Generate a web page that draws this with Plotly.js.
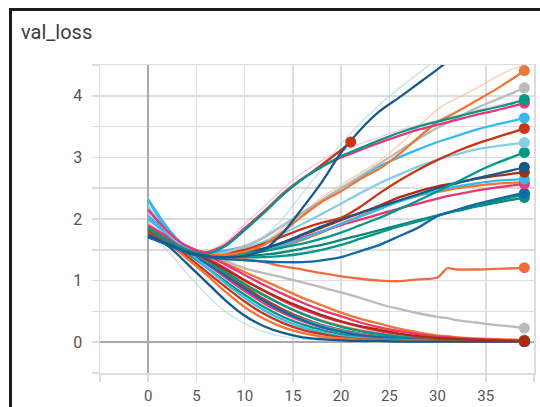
<!DOCTYPE html>
<html>
<head>
<meta charset="utf-8">
<script src="https://cdn.plot.ly/plotly-3.0.1.min.js"></script>
<style>html,body{margin:0;padding:0;background:#fff;}#chart{width:540px;height:407px;}</style>
</head>
<body>
<div id="chart"></div>
<script>
// ---- data ----
const epochs = [0,2,4,6,8,10,12,14,16,18,20,22,24,26,28,30,31,32,34,36,38,39];
const shortEpochs = [0,2,4,6,8,10,12,14,16,18,20,21];
const xTickVals = [-5,0,5,10,15,20,25,30,35,40];
const xTickText = ['','0','5','10','15','20','25','30','35',''];
const yTickVals = [-0.5,0,0.5,1,1.5,2,2.5,3,3.5,4,4.5];
const yTickText = ['','0','','1','','2','','3','','4',''];

// decreasing runs
const d1  = [1.76,1.48,1.12,0.78,0.5,0.3,0.17,0.09,0.05,0.03,0.02,0.01,0.01,0.01,0.01,0.01,0.01,0.01,0.01,0.01,0.01,0.01];
const d2  = [1.72,1.57,1.28,0.98,0.68,0.43,0.26,0.15,0.08,0.05,0.03,0.02,0.02,0.01,0.01,0.01,0.01,0.01,0.01,0.01,0.01,0.01];
const d3  = [1.8,1.62,1.36,1.1,0.82,0.57,0.38,0.24,0.15,0.09,0.06,0.04,0.03,0.02,0.02,0.01,0.01,0.01,0.01,0.01,0.01,0.01];
const d4  = [1.82,1.63,1.4,1.15,0.9,0.66,0.46,0.31,0.2,0.13,0.08,0.05,0.04,0.03,0.02,0.02,0.02,0.01,0.01,0.01,0.01,0.01];
const d5  = [2.32,1.86,1.5,1.22,0.96,0.72,0.52,0.36,0.24,0.16,0.1,0.07,0.05,0.04,0.03,0.02,0.02,0.02,0.01,0.01,0.01,0.01];
const d6  = [1.85,1.66,1.45,1.22,0.99,0.77,0.57,0.41,0.29,0.2,0.13,0.09,0.06,0.05,0.04,0.03,0.03,0.02,0.02,0.01,0.01,0.01];
const d7  = [2.15,1.8,1.52,1.28,1.05,0.83,0.63,0.47,0.34,0.24,0.17,0.12,0.08,0.06,0.05,0.04,0.03,0.03,0.02,0.02,0.01,0.01];
const d8  = [1.8,1.65,1.48,1.3,1.1,0.9,0.7,0.53,0.39,0.28,0.2,0.14,0.1,0.07,0.05,0.04,0.04,0.03,0.02,0.02,0.02,0.02];
const d9  = [1.78,1.65,1.5,1.33,1.14,0.95,0.77,0.6,0.46,0.35,0.26,0.19,0.14,0.1,0.07,0.05,0.05,0.04,0.03,0.03,0.02,0.02];
const d10 = [1.9,1.72,1.55,1.38,1.2,1.01,0.83,0.67,0.53,0.42,0.33,0.25,0.18,0.13,0.09,0.07,0.06,0.05,0.04,0.03,0.03,0.02];
const d11 = [1.7,1.6,1.46,1.28,1.08,0.87,0.67,0.5,0.36,0.25,0.17,0.11,0.08,0.06,0.04,0.03,0.03,0.02,0.02,0.01,0.01,0.01];
const d12 = [1.86,1.71,1.56,1.42,1.26,1.09,0.93,0.78,0.64,0.52,0.42,0.32,0.24,0.18,0.13,0.09,0.08,0.07,0.05,0.04,0.03,0.03];
const d13 = [1.8,1.68,1.55,1.43,1.32,1.2,1.12,1.05,0.97,0.89,0.81,0.72,0.62,0.54,0.47,0.41,0.39,0.36,0.32,0.28,0.25,0.23];
const d14 = [1.8,1.68,1.55,1.42,1.28,1.14,1.0,0.86,0.72,0.6,0.48,0.38,0.3,0.22,0.16,0.11,0.1,0.08,0.06,0.05,0.04,0.03];
const d15 = [1.86,1.7,1.52,1.34,1.14,0.94,0.76,0.6,0.46,0.34,0.25,0.18,0.13,0.09,0.07,0.05,0.05,0.04,0.03,0.03,0.02,0.02];
const d16 = [2.05,1.78,1.52,1.3,1.08,0.86,0.66,0.5,0.37,0.27,0.19,0.13,0.09,0.07,0.05,0.04,0.04,0.03,0.03,0.02,0.02,0.02];
const d17 = [1.82,1.66,1.5,1.35,1.18,1.0,0.84,0.69,0.56,0.44,0.34,0.26,0.2,0.14,0.1,0.07,0.06,0.05,0.04,0.03,0.02,0.02];
const fPinkLow = [1.95,1.7,1.45,1.2,0.95,0.72,0.53,0.38,0.27,0.19,0.13,0.09,0.07,0.05,0.04,0.03,0.03,0.02,0.02,0.02,0.01,0.01];

// rising runs
const r1  = [1.8,1.64,1.5,1.43,1.42,1.47,1.58,1.8,2.05,2.28,2.45,2.65,2.82,3.05,3.32,3.58,3.66,3.74,3.92,4.1,4.3,4.41];
const r2  = [1.8,1.62,1.48,1.42,1.46,1.56,1.7,1.9,2.1,2.3,2.5,2.7,2.9,3.1,3.3,3.48,3.56,3.64,3.8,3.93,4.06,4.13];
const r3  = [1.85,1.65,1.5,1.43,1.56,1.82,2.1,2.4,2.65,2.85,3.02,3.15,3.28,3.4,3.5,3.58,3.62,3.66,3.74,3.81,3.89,3.94];
const r4  = [2.15,1.8,1.56,1.46,1.58,1.85,2.12,2.42,2.66,2.85,3.0,3.12,3.24,3.35,3.45,3.53,3.57,3.61,3.69,3.76,3.84,3.88];
const r5  = [2.3,1.82,1.53,1.46,1.49,1.56,1.7,1.9,2.1,2.3,2.5,2.68,2.86,3.0,3.13,3.25,3.3,3.35,3.45,3.53,3.6,3.64];
const r6  = [1.82,1.65,1.5,1.43,1.45,1.5,1.6,1.72,1.84,1.94,2.02,2.2,2.42,2.62,2.8,2.96,3.03,3.1,3.22,3.32,3.42,3.47];
const r7  = [2.2,1.78,1.53,1.46,1.47,1.53,1.63,1.77,1.92,2.08,2.25,2.42,2.58,2.72,2.85,2.96,3.01,3.05,3.13,3.18,3.22,3.24];
const r8  = [1.85,1.66,1.5,1.43,1.42,1.44,1.48,1.54,1.6,1.68,1.78,1.9,2.02,2.16,2.3,2.45,2.53,2.6,2.76,2.9,3.02,3.08];
const r9  = [1.72,1.6,1.48,1.42,1.42,1.45,1.52,1.62,1.75,1.88,2.0,2.1,2.2,2.3,2.4,2.5,2.54,2.58,2.66,2.73,2.8,2.84];
const r10 = [1.8,1.64,1.5,1.43,1.42,1.45,1.52,1.62,1.74,1.86,1.98,2.1,2.22,2.35,2.45,2.53,2.56,2.59,2.65,2.7,2.74,2.76];
const r11 = [2.0,1.75,1.52,1.44,1.42,1.44,1.5,1.58,1.68,1.8,1.92,2.04,2.16,2.28,2.38,2.46,2.5,2.53,2.58,2.62,2.64,2.65];
const r12 = [1.9,1.7,1.52,1.44,1.43,1.46,1.52,1.6,1.7,1.8,1.9,1.99,2.08,2.17,2.25,2.33,2.37,2.4,2.46,2.51,2.55,2.57];
const r13 = [1.78,1.64,1.5,1.43,1.42,1.43,1.48,1.56,1.66,1.78,1.92,2.05,2.18,2.3,2.38,2.44,2.47,2.5,2.54,2.57,2.59,2.6];
const r14 = [1.7,1.58,1.45,1.38,1.35,1.33,1.31,1.3,1.3,1.33,1.38,1.48,1.58,1.72,1.86,2.05,2.1,2.15,2.24,2.32,2.39,2.42];
const r15 = [1.86,1.66,1.5,1.43,1.4,1.38,1.38,1.4,1.44,1.5,1.58,1.68,1.78,1.88,1.96,2.05,2.1,2.14,2.22,2.29,2.36,2.4];
const r16 = [1.84,1.65,1.5,1.42,1.4,1.4,1.42,1.46,1.52,1.58,1.66,1.74,1.82,1.9,1.98,2.06,2.1,2.13,2.2,2.26,2.32,2.35];
const shooter = [1.75,1.6,1.47,1.4,1.38,1.4,1.5,1.78,2.18,2.6,3.08,3.45,3.75,3.97,4.2,4.43,4.55,4.66,4.9,5.1,5.3,5.4];
const fShooter = [1.78,1.55,1.45,1.42,1.46,1.56,1.72,2.02,2.42,2.82,3.22,3.56,3.86,4.12,4.36,4.6,4.7,4.8,5.0,5.2,5.4,5.5];
const fPinkTop = [2.1,1.78,1.55,1.48,1.62,1.92,2.2,2.5,2.75,2.95,3.1,3.22,3.33,3.44,3.52,3.6,3.64,3.68,3.76,3.84,3.9,3.95];
const fOrangeTop = [1.8,1.65,1.52,1.45,1.45,1.5,1.62,1.85,2.1,2.35,2.55,2.75,2.95,3.2,3.5,3.78,3.88,3.96,4.12,4.3,4.45,4.5];
const shortRun = [1.8,1.64,1.5,1.45,1.58,1.84,2.12,2.4,2.65,2.88,3.12,3.25];
const flatRun = [1.8,1.62,1.47,1.4,1.38,1.35,1.3,1.23,1.18,1.12,1.07,1.03,1.0,0.99,1.02,1.05,1.2,1.18,1.18,1.19,1.2,1.21];

// ---- styles ----
const C = {orange:'#ee7733', blue:'#0f6aa6', dblue:'#145a8c', cyan:'#33bbee', lcyan:'#86cdea',
           mag:'#ee3377', red:'#cc3311', dred:'#b02a0c', teal:'#009988', dteal:'#0a8777', gray:'#bbbbbb'};
const runs = [
  {x:epochs, y:fPinkLow, c:'#f4a6c0', faint:true},
  {x:epochs, y:d1, c:'#9fd3ee', faint:true},
  {x:epochs, y:fShooter, c:'#9fd3ee', faint:true},
  {x:epochs, y:fPinkTop, c:'#f4a6c0', faint:true},
  {x:epochs, y:fOrangeTop, c:'#f5b08a', faint:true},
  {x:epochs, y:d13, c:C.gray},
  {x:epochs, y:d14, c:C.orange},
  {x:epochs, y:d12, c:C.mag},
  {x:epochs, y:d10, c:C.mag},
  {x:epochs, y:d9, c:C.orange},
  {x:epochs, y:d8, c:C.red},
  {x:epochs, y:d16, c:C.cyan},
  {x:epochs, y:d15, c:C.teal},
  {x:epochs, y:d7, c:C.mag},
  {x:epochs, y:d6, c:C.teal},
  {x:epochs, y:d11, c:C.blue},
  {x:epochs, y:d5, c:C.cyan},
  {x:epochs, y:d4, c:C.red},
  {x:epochs, y:d3, c:C.orange},
  {x:epochs, y:d2, c:C.dblue},
  {x:epochs, y:d17, c:C.dred},
  {x:epochs, y:flatRun, c:'#f26b3a'},
  {x:epochs, y:r16, c:C.dteal},
  {x:epochs, y:r15, c:C.teal},
  {x:epochs, y:r14, c:C.blue},
  {x:epochs, y:r13, c:C.orange},
  {x:epochs, y:r12, c:C.mag},
  {x:epochs, y:r11, c:C.cyan},
  {x:epochs, y:r10, c:C.dred},
  {x:epochs, y:r9, c:C.dblue},
  {x:epochs, y:r8, c:C.teal},
  {x:epochs, y:r7, c:C.lcyan},
  {x:epochs, y:r6, c:C.red},
  {x:epochs, y:r5, c:C.cyan},
  {x:epochs, y:r2, c:C.gray},
  {x:epochs, y:r1, c:C.orange},
  {x:shortEpochs, y:shortRun, c:C.red},
  {x:epochs, y:r4, c:C.mag},
  {x:epochs, y:r3, c:C.teal},
  {x:epochs, y:shooter, c:C.dblue}
];

const traces = [];
runs.forEach(r => {
  traces.push({type:'scatter', mode:'lines', x:r.x, y:r.y,
    line:{color:r.c, width:r.faint?1.4:2.3, shape:'spline', smoothing:0.7},
    opacity:r.faint?0.6:1, hoverinfo:'skip', showlegend:false});
});
runs.filter(r => !r.faint).forEach(r => {
  const n = r.x.length - 1;
  traces.push({type:'scatter', mode:'markers', x:[r.x[n]], y:[r.y[n]],
    marker:{color:r.c, size:11}, hoverinfo:'skip', showlegend:false});
});

const W = 540, H = 407, L = 100, R = 6, T = 65, B = 34;
const pw = W - L - R, ph = H - T - B;
const px = v => (v - L) / pw;
const py = v => 1 - (v - T) / ph;
const grid = '#dddddd';

const layout = {
  width:W, height:H,
  margin:{l:L, r:R, t:T, b:B, pad:0},
  paper_bgcolor:'#ffffff', plot_bgcolor:'#ffffff',
  showlegend:false, hovermode:false,
  font:{family:'Roboto, "Noto Sans", sans-serif', color:'#555555', size:15},
  title:{text:'val_loss', xref:'container', yref:'container', x:21/W, xanchor:'left',
         y:1 - 32/H, yanchor:'middle', font:{family:'Roboto, sans-serif', size:20, color:'#3d3d3d'}},
  xaxis:{range:[-5,40], tickmode:'array', tickvals:xTickVals, ticktext:xTickText,
         showgrid:true, gridcolor:grid, gridwidth:1.5,
         ticks:'outside', ticklen:7, tickwidth:1.5, tickcolor:grid, ticklabelstandoff:1,
         zeroline:true, zerolinecolor:'#a8a8a8', zerolinewidth:2.5,
         showline:true, mirror:true, linecolor:grid, linewidth:1.5,
         tickfont:{size:15, color:'#555555'}, fixedrange:true},
  yaxis:{range:[-0.5,4.5], tickmode:'array', tickvals:yTickVals, ticktext:yTickText,
         showgrid:true, gridcolor:grid, gridwidth:1.5,
         ticks:'outside', ticklen:7, tickwidth:1.5, tickcolor:grid, ticklabelstandoff:6,
         zeroline:true, zerolinecolor:'#a8a8a8', zerolinewidth:2.5,
         showline:true, mirror:true, linecolor:grid, linewidth:1.5,
         tickfont:{size:16, color:'#555555'}, fixedrange:true},
  shapes:[
    {type:'line', xref:'paper', yref:'paper', x0:px(10.5), x1:px(10.5), y0:py(8), y1:py(H+2),
     line:{color:'#1e1e1e', width:3}},
    {type:'line', xref:'paper', yref:'paper', x0:px(9), x1:px(W+2), y0:py(9.5), y1:py(9.5),
     line:{color:'#1e1e1e', width:3}}
  ]
};

Plotly.newPlot('chart', traces, layout, {displayModeBar:false, staticPlot:true});
</script>
</body>
</html>
